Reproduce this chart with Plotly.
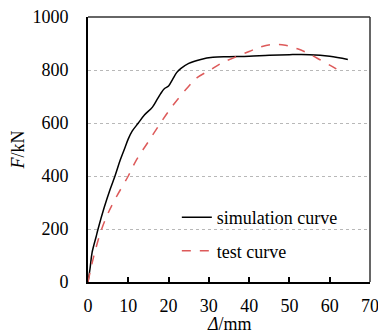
import plotly.graph_objects as go

sim_x = [0, 0.5, 1, 2, 2.5, 4, 5.5, 6.7, 8, 9, 10, 11, 12.5, 14, 16, 17.2, 18, 19, 20, 21, 22, 23, 25, 28, 31, 35, 40, 45, 50, 55, 60, 64.5]
sim_y = [0, 50, 110, 170, 200, 280, 350, 400, 460, 500, 540, 570, 600, 630, 660, 690, 710, 730, 740, 765, 790, 805, 825, 840, 848, 850, 852, 856, 858, 858, 852, 840]

test_x = [0, 1, 2, 3.4, 5, 7, 10, 12, 15, 18, 21, 24.5, 27, 30.3, 33, 36, 40, 43, 46, 49, 52, 55, 58, 61, 63]
test_y = [0, 70, 130, 200, 260, 320, 400, 460, 530, 600, 665, 730, 770, 800, 825, 845, 870, 888, 897, 893, 880, 860, 835, 810, 790]

x_ticks = [0, 10, 20, 30, 40, 50, 60, 70]
y_ticks = [0, 200, 400, 600, 800, 1000]

font = "Liberation Serif, Times New Roman, serif"
fs = 18

fig = go.Figure()
fig.add_trace(go.Scatter(x=sim_x, y=sim_y, mode="lines", name="simulation curve",
                         line=dict(color="black", width=1.5, shape="spline"), legendgroup="a"))
fig.add_trace(go.Scatter(x=test_x, y=test_y, mode="lines", name="test curve",
                         line=dict(color="#dd5a5a", width=1.5, dash="dash", shape="spline"), legendgroup="b"))

fig.update_layout(
    width=378, height=335,
    margin=dict(l=88, r=8, t=17, b=53, autoexpand=False),
    paper_bgcolor="white", plot_bgcolor="white",
    font=dict(family=font, size=fs, color="black"),
    showlegend=True,
    legend=dict(x=0.315, y=0.313, xanchor="left", yanchor="top", bgcolor="rgba(0,0,0,0)",
                font=dict(size=fs, family=font), traceorder="grouped", tracegroupgap=7),
    xaxis=dict(range=[0, 70], tickvals=x_ticks, ticks="inside", ticklen=5, tickwidth=1.5,
               tickcolor="black", showline=True, linecolor="black", linewidth=2,
               showgrid=False, zeroline=False, ticklabelstandoff=6, automargin=False,
               ticklabeloverflow="allow"),
    yaxis=dict(range=[0, 1000], tickvals=y_ticks, ticks="", showline=True, linecolor="black",
               linewidth=2, showgrid=True, gridcolor="#b8b8b8", griddash="dot", gridwidth=1,
               zeroline=False, ticklabelstandoff=14, automargin=False,
               title=dict(text="<i>F</i>/kN", font=dict(size=fs, family=font), standoff=3)),
    annotations=[
        dict(text="<i>Δ</i>/mm", xref="paper", yref="paper", x=0.5, y=-0.16,
             xanchor="center", yanchor="middle", showarrow=False,
             font=dict(size=fs, family=font)),
    ],
    shapes=[
        dict(type="line", xref="paper", yref="paper", x0=0, x1=1, y0=1, y1=1,
             line=dict(color="#333", width=1.5)),
        dict(type="line", xref="paper", yref="paper", x0=1, x1=1, y0=0, y1=1,
             line=dict(color="#333", width=1.5)),
    ],
)

fig.write_html("out.html")
